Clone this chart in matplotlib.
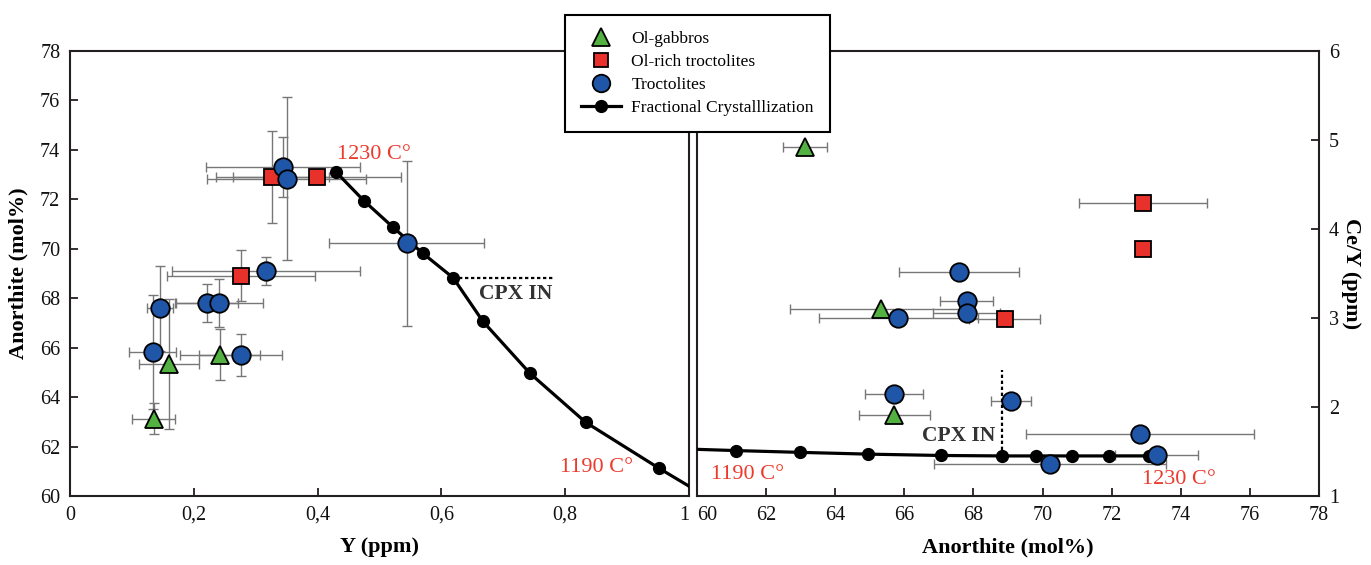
import numpy as np
import matplotlib.pyplot as plt
from matplotlib.lines import Line2D

plt.rcParams['font.family'] = ['Liberation Serif', 'DejaVu Serif']

# Ol-gabbros
gab_an = [63.13, 65.33, 65.71]
gab_an_err = [0.64, 2.64, 1.03]
gab_y = [0.135, 0.160, 0.2425]
gab_y_err = [0.035, 0.048, 0.064]
gab_cey = [4.92, 3.10, 1.91]

# Ol-rich troctolites
olr_an = [72.90, 72.90, 68.90]
olr_an_err = [1.85, 0.0, 1.03]
olr_y = [0.327, 0.399, 0.276]
olr_y_err = [0.091, 0.136, 0.119]
olr_cey = [4.29, 3.77, 2.99]

# Troctolites
tro_an = [73.30, 72.82, 70.21, 69.10, 67.58, 67.80, 67.81, 65.83, 65.70]
tro_an_err = [1.2, 3.3, 3.35, 0.58, 1.73, 0.77, 0.97, 2.3, 0.85]
tro_y = [0.344, 0.350, 0.544, 0.317, 0.146, 0.221, 0.240, 0.134, 0.276]
tro_y_err = [0.124, 0.128, 0.125, 0.152, 0.021, 0.05, 0.071, 0.038, 0.067]
tro_cey = [1.456, 1.70, 1.355, 2.07, 3.52, 3.19, 3.06, 2.995, 2.15]

# fractional crystallization model, 1230 -> 1190 C
fc_an = [73.09, 71.93, 70.86, 69.81, 68.82, 67.06, 64.96, 62.98, 61.13, 59.5]
fc_y = [0.430, 0.475, 0.522, 0.570, 0.619, 0.667, 0.743, 0.833, 0.951, 1.06]
fc_cey = [1.45, 1.45, 1.45, 1.45, 1.45, 1.455, 1.47, 1.49, 1.51, 1.53]
cpx_in = 4  # clinopyroxene saturation step

y_ticks = [0, 0.2, 0.4, 0.6, 0.8, 1.0]
y_tick_labels = ['0', '0,2', '0,4', '0,6', '0,8', '1']
an_ticks = list(range(60, 79, 2))
cey_ticks = [1, 2, 3, 4, 5, 6]

RED = '#ec3a2c'
ERR = '#777777'
SPINE = '#231f20'

groups = [
    (gab_an, gab_an_err, gab_y, gab_y_err, gab_cey, '^', '#52b140', 13.5, 'Ol-gabbros'),
    (olr_an, olr_an_err, olr_y, olr_y_err, olr_cey, 's', '#e8312a', 11, 'Ol-rich troctolites'),
    (tro_an, tro_an_err, tro_y, tro_y_err, tro_cey, 'o', '#1f56a8', 13.3, 'Troctolites'),
]

fig = plt.figure(figsize=(13.71, 5.65), dpi=100)
ax1 = fig.add_axes([70 / 1371, 69 / 565, 619 / 1371, 445.3 / 565])
ax2 = fig.add_axes([697 / 1371, 69 / 565, 622 / 1371, 445.3 / 565])

eb = dict(fmt='none', ecolor=ERR, elinewidth=1.0, capsize=3.5, capthick=1.0, zorder=2)
for an, an_err, y, y_err, cey, mk, col, ms, lab in groups:
    ax1.errorbar(y, an, xerr=y_err, yerr=an_err, **eb)
    ax2.errorbar(an, cey, xerr=an_err, **eb)

for an, an_err, y, y_err, cey, mk, col, ms, lab in groups:
    ax1.plot(y, an, ls='none', marker=mk, ms=ms, mfc=col, mec='k', mew=1.3, zorder=4)
    ax2.plot(an, cey, ls='none', marker=mk, ms=ms, mfc=col, mec='k', mew=1.3, zorder=4)

fc = dict(color='k', lw=2.3, marker='o', ms=8.5, zorder=3)
ax1.plot(fc_y, fc_an, **fc)
ax2.plot(fc_an, fc_cey, **fc)

# CPX IN markers
ax1.plot([fc_y[cpx_in], 0.784], [fc_an[cpx_in]] * 2, color='k', lw=1.6, ls=(0, (1.5, 1.2)), zorder=3)
ax2.plot([fc_an[cpx_in]] * 2, [fc_cey[cpx_in], 2.415], color='k', lw=1.6, ls=(0, (1.5, 1.2)), zorder=3)
ax1.text(0.66, 68.16, 'CPX IN', color='#333333', fontsize=15.5, fontweight='bold', va='center')
ax2.text(66.5, 1.67, 'CPX IN', color='#333333', fontsize=15.5, fontweight='bold', va='center')

# temperature labels
ax1.text(0.431, 73.8, '1230 C°', color=RED, fontsize=16, va='center')
ax1.text(0.792, 61.15, '1190 C°', color=RED, fontsize=16, va='center')
ax2.text(60.41, 1.24, '1190 C°', color=RED, fontsize=16, va='center')
ax2.text(72.87, 1.19, '1230 C°', color=RED, fontsize=16, va='center')

ax1.set_xlim(0, 1)
ax1.set_ylim(60, 78)
ax1.set_xticks(y_ticks)
ax1.set_xticklabels(y_tick_labels)
ax1.set_yticks(an_ticks)
ax1.set_xlabel('Y (ppm)', fontsize=16, fontweight='bold', labelpad=9)
ax1.set_ylabel('Anorthite (mol%)', fontsize=16, fontweight='bold', labelpad=8)
ax1.get_xticklabels()[-1].set_horizontalalignment('right')

ax2.set_xlim(60, 78)
ax2.set_ylim(1, 6)
ax2.set_xticks(an_ticks)
ax2.set_yticks(cey_ticks)
ax2.yaxis.tick_right()
ax2.yaxis.set_label_position('right')
ax2.set_xlabel('Anorthite (mol%)', fontsize=16, fontweight='bold', labelpad=9)
ax2.set_ylabel('Ce/Y (ppm)', fontsize=16, fontweight='bold', rotation=270, labelpad=16)
ax2.get_xticklabels()[0].set_horizontalalignment('left')

for ax in (ax1, ax2):
    for s in ax.spines.values():
        s.set_linewidth(1.5)
        s.set_color(SPINE)
    ax.tick_params(direction='in', length=6, width=1.3, colors=SPINE, labelsize=14.5, pad=7)
    ax.tick_params(labelcolor='#111111')
ax2.tick_params(axis='y', left=False, right=True)

handles = [Line2D([], [], ls='none', marker=mk, ms=ms * 0.95, mfc=col, mec='k', mew=1.3)
           for _, _, _, _, _, mk, col, ms, _ in groups]
handles.append(Line2D([], [], color='k', lw=2.3, marker='o', ms=8.5))
labels = [g[-1] for g in groups] + ['Fractional Crystalllization']
leg = fig.legend(handles, labels, loc='upper center', bbox_to_anchor=(697.5 / 1371, 1 - 15 / 565),
                 borderaxespad=0, fontsize=12.5, frameon=True, fancybox=False, edgecolor='k',
                 framealpha=1, handlelength=2.3, labelspacing=0.4, borderpad=0.9, handletextpad=0.6)
leg.get_frame().set_linewidth(1.5)
leg.set_zorder(10)

fig.savefig('out.png', dpi=100)
